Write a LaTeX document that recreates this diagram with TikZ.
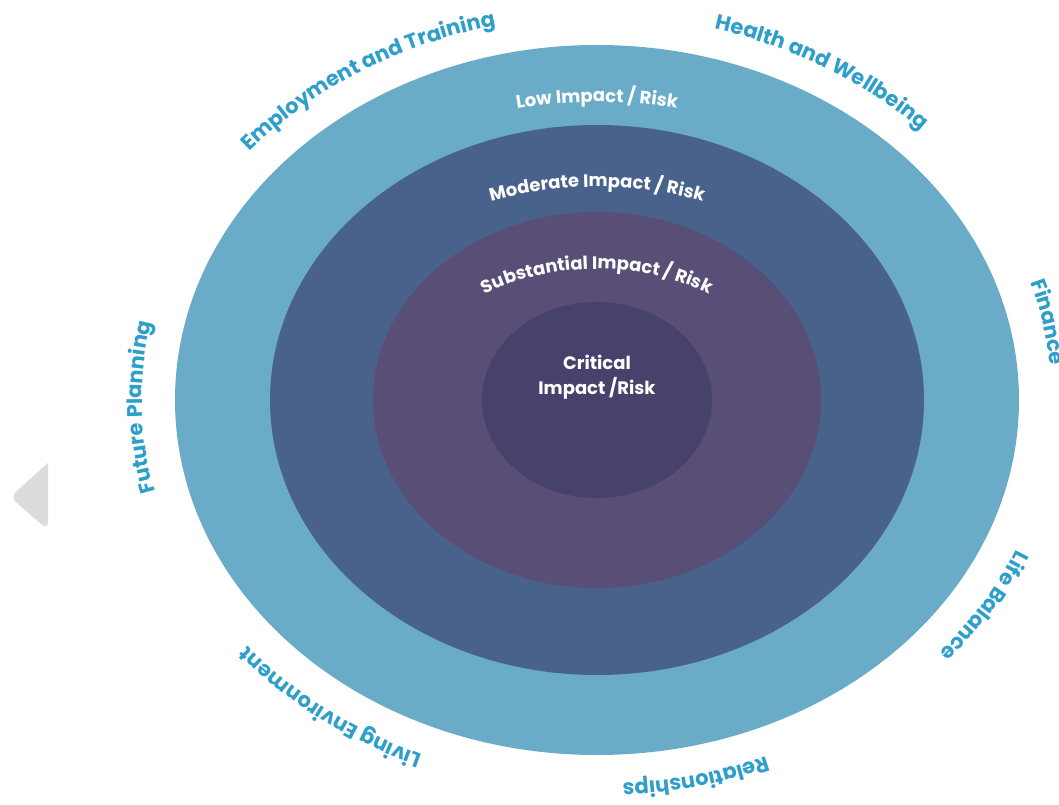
\documentclass[tikz,border=0pt]{standalone}
\usepackage{fontspec}
\setmainfont{Poppins}
\usetikzlibrary{decorations.text}
\definecolor{ringA}{HTML}{6AACC8}
\definecolor{ringB}{HTML}{48628C}
\definecolor{ringC}{HTML}{584E76}
\definecolor{ringD}{HTML}{46426C}
\definecolor{labelblue}{HTML}{2E9FCB}
\definecolor{navgrey}{HTML}{DCDCDC}
\newcommand{\outerfont}{\bfseries\fontsize{21}{21}\selectfont}
\newcommand{\innerfont}{\bfseries\fontsize{18}{18}\selectfont}
% color, center angle, half span, x radius, y radius, font, text
\newcommand{\arclabel}[7]{%
  \path[decorate, decoration={text along path, text color=#1, text align=center, text={|#6|#7}}]
   ([shift={({#4*cos(#2+#3)},{#5*sin(#2+#3)})}]C)
   arc[start angle={#2+#3}, end angle={#2-#3}, x radius=#4pt, y radius=#5pt];}
\begin{document}
\begin{tikzpicture}[x=1pt,y=1pt]
\useasboundingbox (0,0) rectangle (1059,804);
\coordinate (C) at (597,404);
% rings
\fill[ringA] (C) ellipse [x radius=422pt, y radius=355pt];
\fill[ringB] (C) ellipse [x radius=327pt, y radius=275pt];
\fill[ringC] (C) ellipse [x radius=224pt, y radius=188pt];
\fill[ringD] (C) ellipse [x radius=115pt, y radius=98pt];
% ring labels
\arclabel{white}{90}{45}{380}{298}{\innerfont}{Low Impact / Risk}
\arclabel{white}{90}{60}{290}{213}{\innerfont}{Moderate Impact / Risk}
\arclabel{white}{90}{80}{190}{131}{\innerfont}{Substantial Impact / Risk}
\node[text=white, font=\bfseries\fontsize{18}{25}\selectfont, align=center] (crit) at (597,427) {Critical\\Impact /Risk};
% outer labels
\arclabel{labelblue}{123}{45}{455}{384}{\outerfont}{Employment and Training}
\arclabel{labelblue}{58}{45}{455}{384}{\outerfont}{Health and Wellbeing}
\arclabel{labelblue}{11}{30}{455}{384}{\outerfont}{Finance}
\arclabel{labelblue}{-31}{30}{455}{384}{\outerfont}{Life Balance}
\arclabel{labelblue}{-77}{30}{455}{384}{\outerfont}{Relationships}
\arclabel{labelblue}{232}{40}{455}{384}{\outerfont}{Living Environment}
\arclabel{labelblue}{181}{30}{455}{384}{\outerfont}{Future Planning}
% navigation arrow
\fill[navgrey, rounded corners=8pt] (48,341) -- (10,307) -- (48,274) [sharp corners] -- cycle;
\end{tikzpicture}
\end{document}
